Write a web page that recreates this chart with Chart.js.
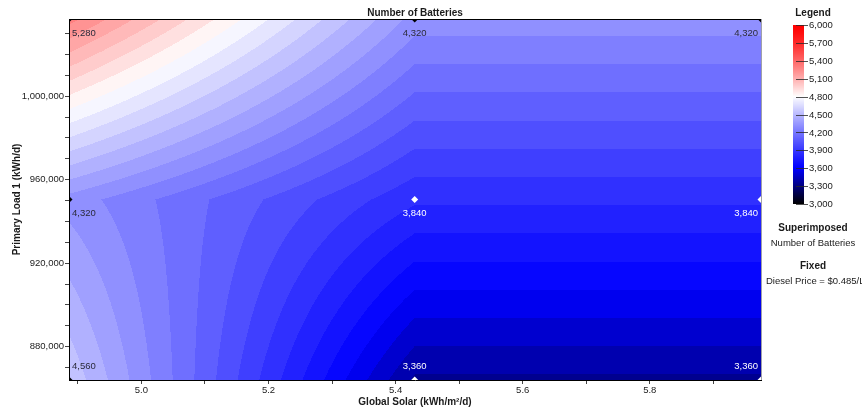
<!DOCTYPE html>
<html>
<head>
<meta charset="utf-8">
<script src="https://cdn.jsdelivr.net/npm/chart.js@4.4.1/dist/chart.umd.min.js"></script>
<style>
  html, body { margin: 0; padding: 0; background: #fff; }
  #wrap { width: 862px; height: 412px; position: relative; overflow: hidden; }
</style>
</head>
<body>
<div id="wrap"><canvas id="c" width="862" height="412"></canvas></div>
<script>
// ---- data ----
const solarX = [4.886, 5.43, 5.975];            // Global Solar (kWh/m2/d)
const loadY = [864000, 950500, 1037000];         // Primary Load 1 (kWh/d)
const batteriesLowLoad  = [4560, 3360, 3360];    // at loadY[0]
const batteriesMidLoad  = [4320, 3840, 3840];    // at loadY[1]
const batteriesHighLoad = [5280, 4320, 4320];    // at loadY[2]
const xTickValues = [4.9, 5.0, 5.1, 5.2, 5.3, 5.4, 5.5, 5.6, 5.7, 5.8, 5.9];
const xTickLabels = ['', '5.0', '', '5.2', '', '5.4', '', '5.6', '', '5.8', ''];
const yTickValues = [870000, 880000, 890000, 900000, 910000, 920000, 930000, 940000, 950000,
                     960000, 970000, 980000, 990000, 1000000, 1010000, 1020000, 1030000];
const yTickLabels = ['', '880,000', '', '', '', '920,000', '', '', '',
                     '960,000', '', '', '', '1,000,000', '', '', ''];
const legendTicks = [3000, 3300, 3600, 3900, 4200, 4500, 4800, 5100, 5400, 5700, 6000];
const colorMin = 3000, colorMax = 6000, bandStep = 75;

const grid = [batteriesLowLoad, batteriesMidLoad, batteriesHighLoad];
const points = [];
for (let j = 0; j < loadY.length; j++)
  for (let i = 0; i < solarX.length; i++)
    points.push({ x: solarX[i], y: loadY[j], v: grid[j][i], i, j });

function cmap(v) {
  if (v <= 3600) { const t = Math.max(0, (v - 3000) / 600); return [0, 0, 255 * t]; }
  if (v <= 4800) { const t = Math.pow((v - 3600) / 1200, 1.1); return [255 * t, 255 * t, 255]; }
  const t = Math.min(1, (v - 4800) / 1200); const w = Math.pow(1 - t, 1.3);
  return [255, 255 * w, 255 * w];
}
function seg(arr, val) {
  for (let k = 0; k < arr.length - 1; k++) if (val <= arr[k + 1]) return k;
  return arr.length - 2;
}
function surface(x, y) {
  const i = seg(solarX, x), j = seg(loadY, y);
  const u = Math.min(1, Math.max(0, (x - solarX[i]) / (solarX[i + 1] - solarX[i])));
  const w = Math.min(1, Math.max(0, (y - loadY[j]) / (loadY[j + 1] - loadY[j])));
  return grid[j][i] * (1 - u) * (1 - w) + grid[j][i + 1] * u * (1 - w) +
         grid[j + 1][i] * (1 - u) * w + grid[j + 1][i + 1] * u * w;
}

const FONT = "'Liberation Sans', Arial, sans-serif";
Chart.defaults.font.family = FONT;

const contourPlugin = {
  id: 'contour',
  beforeDraw(chart) {
    const { ctx, chartArea: a, scales } = chart;
    const L = Math.round(a.left), T = Math.round(a.top);
    const W = Math.round(a.right) - L, H = Math.round(a.bottom) - T;
    const img = ctx.createImageData(W, H);
    for (let r = 0; r < H; r++) {
      const yv = scales.y.getValueForPixel(T + r + 0.5);
      for (let c = 0; c < W; c++) {
        const xv = scales.x.getValueForPixel(L + c + 0.5);
        const v = surface(xv, yv);
        const band = Math.floor((v - colorMin) / bandStep);
        const col = cmap(colorMin + (band + 0.5) * bandStep);
        const o = (r * W + c) * 4;
        img.data[o] = col[0]; img.data[o + 1] = col[1]; img.data[o + 2] = col[2]; img.data[o + 3] = 255;
      }
    }
    ctx.putImageData(img, L, T);
  },
  afterDatasetsDraw(chart) {
    const { ctx, chartArea: a, scales } = chart;
    ctx.save();
    ctx.font = "9.5px " + FONT;
    ctx.textBaseline = 'middle';
    points.forEach(p => {
      let px = scales.x.getPixelForValue(p.x), py = scales.y.getPixelForValue(p.y);
      const label = p.v.toLocaleString('en-US');
      if (p.i === 0) { ctx.textAlign = 'left'; px += 3; }
      else if (p.i === solarX.length - 1) { ctx.textAlign = 'right'; px -= 3; }
      else ctx.textAlign = 'center';
      py += (p.j === 0) ? -14 : 14;
      ctx.fillStyle = p.v > 4000 ? '#2a2a3a' : '#ffffff';
      ctx.fillText(label, px, py);
    });
    ctx.strokeStyle = '#000'; ctx.lineWidth = 1;
    ctx.beginPath(); ctx.moveTo(a.left, a.top + 0.5); ctx.lineTo(a.right, a.top + 0.5); ctx.stroke();
    ctx.strokeStyle = '#a0a0a8';
    ctx.beginPath(); ctx.moveTo(a.right + 0.5, a.top); ctx.lineTo(a.right + 0.5, a.bottom); ctx.stroke();
    ctx.restore();
  },
  afterDraw(chart) {
    const { ctx, chartArea: a } = chart;
    ctx.save();
    ctx.fillStyle = '#1a1a1a';
    ctx.textBaseline = 'middle';
    ctx.textAlign = 'center';
    ctx.font = "bold 10px " + FONT;
    ctx.fillText('Number of Batteries', (a.left + a.right) / 2, 13);
    ctx.fillText('Global Solar (kWh/m\u00B2/d)', (a.left + a.right) / 2, 402);
    ctx.save();
    ctx.translate(17, (a.top + a.bottom) / 2);
    ctx.rotate(-Math.PI / 2);
    ctx.fillText('Primary Load 1 (kWh/d)', 0, 0);
    ctx.restore();

    const bx = 793, bw = 11, by0 = 25, by1 = 204;
    for (let yy = by0; yy < by1; yy++) {
      const v = colorMax - (yy + 0.5 - by0) / (by1 - by0) * (colorMax - colorMin);
      const c = cmap(v);
      ctx.fillStyle = `rgb(${c[0] | 0},${c[1] | 0},${c[2] | 0})`;
      ctx.fillRect(bx, yy, bw, 1);
    }
    ctx.fillStyle = '#1a1a1a';
    ctx.font = "bold 10px " + FONT;
    ctx.fillText('Legend', 813, 13);
    ctx.font = "9.5px " + FONT;
    ctx.textAlign = 'left';
    ctx.strokeStyle = 'rgba(40,40,40,0.8)';
    legendTicks.forEach(t => {
      const yy = by1 - (t - colorMin) / (colorMax - colorMin) * (by1 - by0);
      ctx.beginPath(); ctx.moveTo(bx + 3, Math.round(yy) + 0.5); ctx.lineTo(bx + bw + 4, Math.round(yy) + 0.5); ctx.stroke();
      ctx.fillText(t.toLocaleString('en-US'), bx + bw + 5, yy + 0.5);
    });
    ctx.textAlign = 'center';
    ctx.font = "bold 10px " + FONT;
    ctx.fillText('Superimposed', 813, 228);
    ctx.fillText('Fixed', 813, 266);
    ctx.font = "9.5px " + FONT;
    ctx.fillText('Number of Batteries', 813, 243);
    ctx.textAlign = 'left';
    ctx.fillText('Diesel Price = $0.485/L', 766, 281);
    ctx.restore();
  }
};

new Chart(document.getElementById('c'), {
  type: 'scatter',
  data: {
    datasets: [{
      data: points,
      pointStyle: 'rectRot',
      pointRadius: 3.5,
      pointBorderWidth: 0,
      pointBackgroundColor: points.map(p => p.v > 4000 ? '#000' : '#fff'),
      clip: 0
    }]
  },
  options: {
    responsive: false,
    animation: false,
    devicePixelRatio: 1,
    layout: { padding: { top: 19, right: 101, left: 0, bottom: 0 } },
    plugins: { legend: { display: false }, tooltip: { enabled: false } },
    events: [],
    scales: {
      x: {
        type: 'linear',
        min: solarX[0], max: solarX[solarX.length - 1],
        afterBuildTicks: s => { s.ticks = xTickValues.map(v => ({ value: v })); },
        ticks: {
          autoSkip: false, maxRotation: 0, padding: 1,
          color: '#222', font: { size: 9.5 },
          callback: (v, idx) => xTickLabels[idx]
        },
        grid: { drawOnChartArea: false, drawTicks: true, tickLength: 4, color: '#444' },
        border: { display: true, color: '#000', width: 1 },
        afterFit: s => { s.height = 32; }
      },
      y: {
        type: 'linear',
        min: loadY[0], max: loadY[loadY.length - 1],
        afterBuildTicks: s => { s.ticks = yTickValues.map(v => ({ value: v })); },
        ticks: {
          autoSkip: false, padding: 1,
          color: '#222', font: { size: 9.5 },
          callback: (v, idx) => yTickLabels[idx]
        },
        grid: { drawOnChartArea: false, drawTicks: true, tickLength: 4, color: '#444' },
        border: { display: true, color: '#000', width: 1 },
        afterFit: s => { s.width = 69; }
      }
    }
  },
  plugins: [contourPlugin]
});
</script>
</body>
</html>
